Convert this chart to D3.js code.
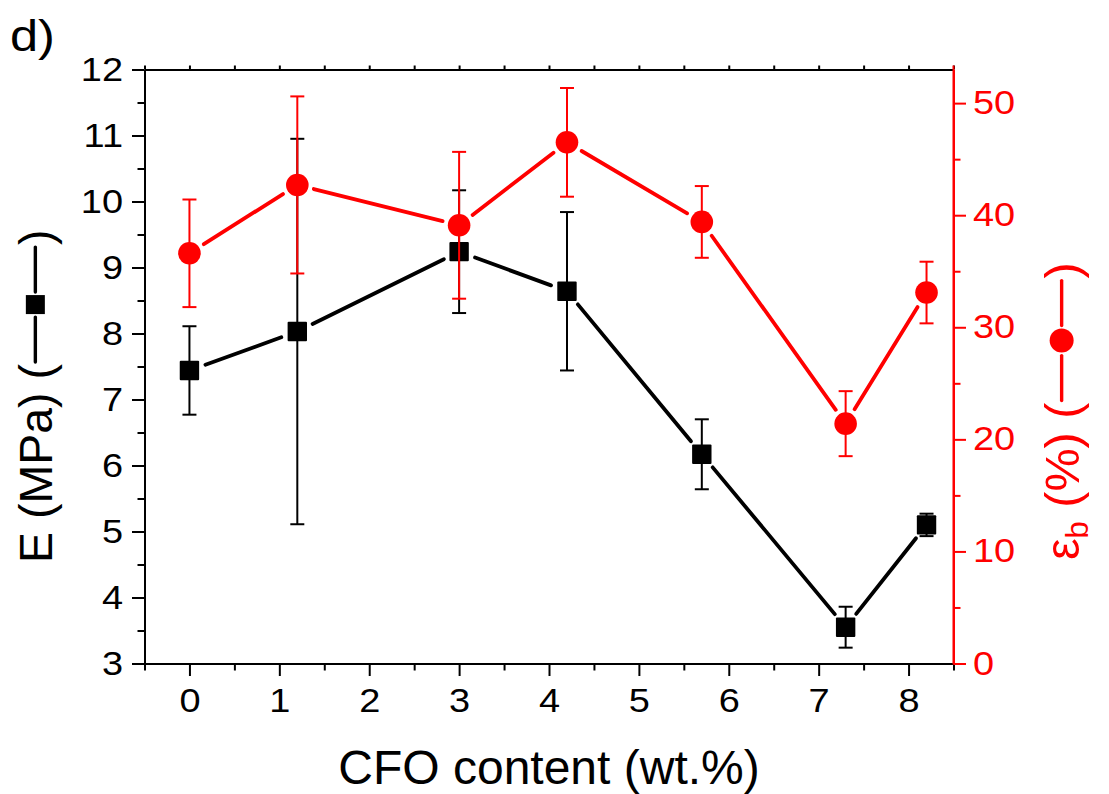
<!DOCTYPE html>
<html>
<head>
<meta charset="utf-8">
<script src="https://cdn.jsdelivr.net/npm/d3@7"></script>
<style>
  body { margin: 0; background: #fff; }
  text { font-family: "Liberation Sans", Arial, sans-serif; }
</style>
</head>
<body>
<svg id="chart" width="1109" height="794"></svg>
<script>
// CFO content (wt.%) of each sample
const cfo = [0, 1.2, 3, 4.2, 5.7, 7.3, 8.2];
// Young's modulus E (MPa) and its standard deviation
const modulus = [7.44, 8.03, 9.24, 8.64, 6.17, 3.55, 5.10];
const modulusErr = [0.67, 2.92, 0.93, 1.20, 0.53, 0.31, 0.17];
// Elongation at break εb (%) and its standard deviation
const elongation = [36.6, 42.7, 39.1, 46.5, 39.4, 21.4, 33.1];
const elongationErr = [4.8, 7.9, 6.55, 4.85, 3.2, 2.9, 2.75];
// Axis ticks
const xTicks = [0, 1, 2, 3, 4, 5, 6, 7, 8];
const leftTicks = [3, 4, 5, 6, 7, 8, 9, 10, 11, 12];
const rightTicks = [0, 10, 20, 30, 40, 50];

const RED = "#ff0000";
const FONT = '"Liberation Sans", Arial, sans-serif';
const TICK_FS = 33, TICK_STRETCH = 1.15;
const svg = d3.select("#chart");
const plot = { left: 144.5, right: 953.5, top: 69.5, bottom: 663.5 };

const x = d3.scaleLinear().domain([-0.5, 8.5]).range([plot.left, plot.right]);
const yL = d3.scaleLinear().domain([3, 12]).range([plot.bottom, plot.top]);
const yR = d3.scaleLinear().domain([0, 53]).range([plot.bottom, plot.top]);

const halfSteps = (a, b, step) => d3.range(a, b + step / 2, step);

function styleAxis(g, color) {
  g.selectAll("path.domain").attr("stroke", color).attr("stroke-width", 2);
  g.selectAll(".tick line").attr("stroke", color).attr("stroke-width", 2);
  // tick numbers use a slightly widened face
  g.selectAll(".tick text").each(function () {
    const t = d3.select(this);
    const x0 = +t.attr("x") || 0;
    t.attr("fill", color).attr("font-size", TICK_FS).attr("font-family", FONT)
      .attr("x", x0 / TICK_STRETCH)
      .attr("transform", `scale(${TICK_STRETCH},1)`);
  });
}

// top frame with small ticks
svg.append("g").attr("transform", `translate(0,${plot.top})`)
  .call(d3.axisTop(x).tickValues(halfSteps(-0.5, 8.5, 0.5)).tickSize(4).tickSizeOuter(0).tickFormat(""))
  .call(g => styleAxis(g, "#000"));

// bottom axis: minor then major
svg.append("g").attr("transform", `translate(0,${plot.bottom})`)
  .call(d3.axisBottom(x).tickValues(halfSteps(-0.5, 8.5, 1)).tickSize(7).tickSizeOuter(0).tickFormat(""))
  .call(g => styleAxis(g, "#000"));
svg.append("g").attr("transform", `translate(0,${plot.bottom})`)
  .call(d3.axisBottom(x).tickValues(xTicks).tickSize(12.5).tickSizeOuter(0).tickPadding(13).tickFormat(d3.format("d")))
  .call(g => styleAxis(g, "#000"));

// left axis
svg.append("g").attr("transform", `translate(${plot.left},0)`)
  .call(d3.axisLeft(yL).tickValues(halfSteps(3.5, 11.5, 1)).tickSize(7).tickSizeOuter(0).tickFormat(""))
  .call(g => styleAxis(g, "#000"));
svg.append("g").attr("transform", `translate(${plot.left},0)`)
  .call(d3.axisLeft(yL).tickValues(leftTicks).tickSize(12.5).tickSizeOuter(0).tickPadding(9).tickFormat(d3.format("d")))
  .call(g => styleAxis(g, "#000"));

// ---- data series ----
function drawSeries(values, errs, y, color, marker) {
  const g = svg.append("g");
  const pts = cfo.map((c, i) => [x(c), y(values[i])]);
  const gap = 17;
  // connecting segments, broken around the markers
  d3.pairs(pts).forEach(([a, b]) => {
    const dx = b[0] - a[0], dy = b[1] - a[1];
    const len = Math.hypot(dx, dy);
    if (len <= 2 * gap) return;
    const ux = dx / len, uy = dy / len;
    g.append("line")
      .attr("x1", a[0] + ux * gap).attr("y1", a[1] + uy * gap)
      .attr("x2", b[0] - ux * gap).attr("y2", b[1] - uy * gap)
      .attr("stroke", color).attr("stroke-width", 3.8).attr("stroke-linecap", "round");
  });
  // error bars
  const cap = 7;
  cfo.forEach((c, i) => {
    const cx = x(c), yt = y(values[i] + errs[i]), yb = y(values[i] - errs[i]);
    g.append("line").attr("x1", cx).attr("x2", cx).attr("y1", yt).attr("y2", yb)
      .attr("stroke", color).attr("stroke-width", 2);
    [yt, yb].forEach(yy => g.append("line")
      .attr("x1", cx - cap).attr("x2", cx + cap).attr("y1", yy).attr("y2", yy)
      .attr("stroke", color).attr("stroke-width", 2));
  });
  // markers
  if (marker === "square") {
    g.selectAll("rect.mk").data(pts).join("rect").attr("class", "mk")
      .attr("x", d => d[0] - 9.7).attr("y", d => d[1] - 9.7)
      .attr("width", 19.4).attr("height", 19.4).attr("rx", 1)
      .attr("fill", color);
  } else {
    g.selectAll("circle.mk").data(pts).join("circle").attr("class", "mk")
      .attr("cx", d => d[0]).attr("cy", d => d[1]).attr("r", 11.3)
      .attr("fill", color);
  }
}

drawSeries(modulus, modulusErr, yL, "#000", "square");
drawSeries(elongation, elongationErr, yR, RED, "circle");

// right axis (red)
svg.append("g").attr("transform", `translate(${plot.right},0)`)
  .call(d3.axisRight(yR).tickValues(halfSteps(5, 45, 10)).tickSize(7).tickSizeOuter(0).tickFormat(""))
  .call(g => styleAxis(g, RED));
svg.append("g").attr("transform", `translate(${plot.right},0)`)
  .call(d3.axisRight(yR).tickValues(rightTicks).tickSize(12.5).tickSizeOuter(0).tickPadding(7).tickFormat(d3.format("d")))
  .call(g => styleAxis(g, RED))
  .call(g => g.select("path.domain").attr("d", `M0,${plot.bottom + 1}V${plot.top - 4}`));

// ---- titles ----
svg.append("text").attr("x", 10 / 1.15).attr("y", 51).attr("font-size", 44).attr("fill", "#000")
  .attr("transform", "scale(1.15,1)").text("d)");

svg.append("text").attr("x", (plot.left + plot.right) / 2).attr("y", 783.5)
  .attr("text-anchor", "middle").attr("font-size", 48).attr("fill", "#000")
  .text("CFO content (wt.%)");

// rotated axis title with an inline line+marker key
function keyedTitle(tx, ty, fs, color, buildHead, marker) {
  const g = svg.append("g").attr("transform", `translate(${tx},${ty}) rotate(-90)`);
  const head = g.append("text").attr("x", 0).attr("y", 0).attr("font-size", fs).attr("fill", color);
  buildHead(head);
  const cur = head.node().getComputedTextLength();
  const mid = -fs * 0.716 / 2;
  const seg = 45, gap = 3, size = marker === "square" ? 19 : 24;
  const s0 = cur + 2;
  g.append("line").attr("x1", s0).attr("x2", s0 + seg).attr("y1", mid).attr("y2", mid)
    .attr("stroke", color).attr("stroke-width", 3.4).attr("stroke-linecap", "round");
  const mc = s0 + seg + gap + size / 2;
  if (marker === "square") {
    g.append("rect").attr("x", mc - size / 2).attr("y", mid - size / 2)
      .attr("width", size).attr("height", size).attr("fill", color);
  } else {
    g.append("circle").attr("cx", mc).attr("cy", mid).attr("r", size / 2).attr("fill", color);
  }
  const s1 = mc + size / 2 + gap;
  g.append("line").attr("x1", s1).attr("x2", s1 + seg).attr("y1", mid).attr("y2", mid)
    .attr("stroke", color).attr("stroke-width", 3.4).attr("stroke-linecap", "round");
  g.append("text").attr("x", s1 + seg + 2).attr("y", 0).attr("font-size", fs).attr("fill", color).text(")");
}

keyedTitle(52, 563, 46.5, "#000", t => t.text("E (MPa) ("), "square");
keyedTitle(1079, 560, 48.5, RED, t => {
  t.append("tspan").text("ε");
  t.append("tspan").attr("font-size", 31).attr("dy", 9).text("b");
  t.append("tspan").attr("dy", -9).text(" (%) (");
}, "circle");
</script>
</body>
</html>
